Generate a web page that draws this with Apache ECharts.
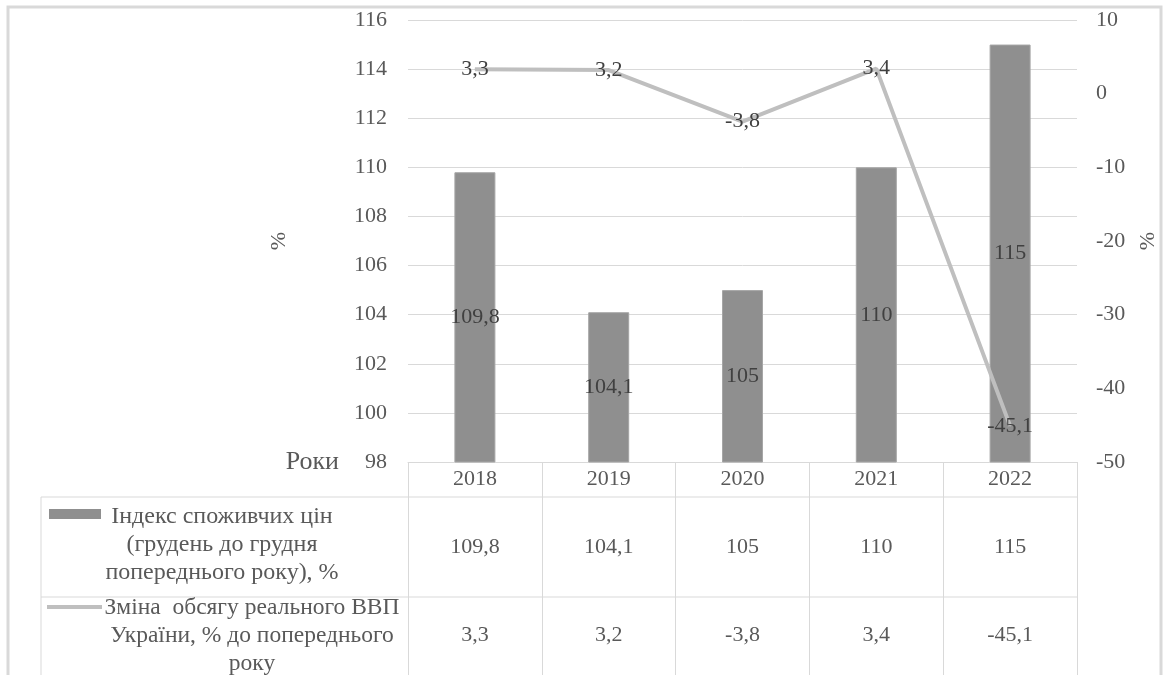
<!DOCTYPE html>
<html>
<head>
<meta charset="utf-8">
<script src="https://cdn.jsdelivr.net/npm/echarts@6/dist/echarts.min.js"></script>
<style>
  html, body { margin: 0; padding: 0; background: #fff; }
  #chart { width: 1168px; height: 675px; }
</style>
</head>
<body>
<div id="chart"></div>
<script>
const years = ['2018', '2019', '2020', '2021', '2022']
const cpiValues = [109.8, 104.1, 105, 110, 115]
const gdpValues = [3.3, 3.2, -3.8, 3.4, -45.1]
const cpiName = 'Індекс споживчих цін\n(грудень до грудня\nпопереднього року), %'
const gdpName = 'Зміна  обсягу реального ВВП\nУкраїни, % до попереднього\nроку'

const FONT = '"Liberation Serif", "Times New Roman", serif'
const fmt = (v) => String(v).replace('.', ',')

// plot area, px
const gridLeft = 408
const gridRight = 1077
const gridTop = 20
const gridBottom = 462
const tableLeft = 41
const row1Top = 497
const row2Top = 597

const chart = echarts.init(document.getElementById('chart'))

const options = {
  animation: false,
  grid: {
    left: gridLeft,
    right: 1168 - gridRight,
    top: gridTop,
    bottom: 675 - gridBottom,
    containLabel: false,
    outerBoundsMode: 'none',
  },
  xAxis: {
    type: 'category',
    data: years,
    name: 'Роки',
    nameLocation: 'start',
    nameGap: 69,
    nameTextStyle: { fontFamily: FONT, fontSize: 26, color: '#595959', verticalAlign: 'middle' },
    axisLine: { onZero: false, lineStyle: { color: '#d9d9d9', width: 1 } },
    axisTick: { show: true, interval: 0, length: 230, lineStyle: { color: '#d9d9d9' } },
    axisLabel: {
      interval: 0,
      margin: 0,
      // rows of the data table under the chart
      formatter: (value, i) => `{y|${value}}\n{a|${fmt(cpiValues[i])}}\n{b|${fmt(gdpValues[i])}}`,
      rich: {
        y: { fontFamily: FONT, fontSize: 22, color: '#595959', lineHeight: row1Top - gridBottom },
        a: { fontFamily: FONT, fontSize: 22, color: '#595959', lineHeight: row2Top - row1Top },
        b: { fontFamily: FONT, fontSize: 22, color: '#595959', lineHeight: 76 },
      },
    },
  },
  yAxis: [
    {
      type: 'value',
      min: 98,
      max: 116,
      interval: 2,
      name: '%',
      nameLocation: 'middle',
      nameGap: 118,
      nameRotate: 90,
      nameTextStyle: { fontFamily: FONT, fontSize: 22, color: '#595959' },
      axisLine: { show: false },
      axisTick: { show: false },
      axisLabel: { fontFamily: FONT, fontSize: 22, color: '#595959', margin: 21 },
      splitLine: { lineStyle: { color: '#d9d9d9', width: 1 } },
    },
    {
      type: 'value',
      min: -50,
      max: 10,
      interval: 10,
      name: '%',
      nameLocation: 'middle',
      nameGap: 60,
      nameRotate: 90,
      nameTextStyle: { fontFamily: FONT, fontSize: 22, color: '#595959' },
      axisLine: { show: false },
      axisTick: { show: false },
      axisLabel: { fontFamily: FONT, fontSize: 22, color: '#595959', margin: 19 },
      splitLine: { show: false },
    },
  ],
  series: [
    {
      name: 'cpi',
      type: 'bar',
      data: cpiValues,
      barWidth: 41,
      itemStyle: { color: '#8f8f8f', borderColor: '#a6a6a6', borderWidth: 1 },
      label: {
        show: true,
        position: 'inside',
        formatter: (p) => fmt(p.value),
        fontFamily: FONT,
        fontSize: 22,
        color: '#404040',
      },
    },
    {
      name: 'gdp',
      type: 'line',
      yAxisIndex: 1,
      data: gdpValues,
      symbol: 'circle',
      symbolSize: 1,
      itemStyle: { color: '#bfbfbf' },
      lineStyle: { color: '#bfbfbf', width: 4 },
      label: {
        show: true,
        position: 'inside',
        formatter: (p) => fmt(p.value),
        fontFamily: FONT,
        fontSize: 22,
        color: '#404040',
      },
      z: 3,
    },
  ],
  graphic: [
    // outer frame
    { type: 'rect', shape: { x: 8, y: 7, width: 1153, height: 690 }, style: { fill: 'none', stroke: '#d9d9d9', lineWidth: 3 }, silent: true },
    // table rules
    { type: 'line', shape: { x1: tableLeft, y1: row1Top, x2: gridRight, y2: row1Top }, style: { stroke: '#d9d9d9', lineWidth: 1 }, silent: true },
    { type: 'line', shape: { x1: tableLeft, y1: row2Top, x2: gridRight, y2: row2Top }, style: { stroke: '#d9d9d9', lineWidth: 1 }, silent: true },
    { type: 'line', shape: { x1: tableLeft, y1: row1Top, x2: tableLeft, y2: 690 }, style: { stroke: '#d9d9d9', lineWidth: 1 }, silent: true },
    // legend keys
    { type: 'rect', shape: { x: 49, y: 509, width: 52, height: 10 }, style: { fill: '#8f8f8f' }, silent: true },
    { type: 'line', shape: { x1: 47, y1: 607, x2: 102, y2: 607 }, style: { stroke: '#bfbfbf', lineWidth: 4 }, silent: true },
    // row headers
    {
      type: 'text',
      style: {
        text: cpiName, x: 222, y: 545, font: `24px ${FONT}`, fill: '#595959',
        textAlign: 'center', textVerticalAlign: 'middle', align: 'center', verticalAlign: 'middle', lineHeight: 28,
      },
      silent: true,
    },
    {
      type: 'text',
      style: {
        text: gdpName, x: 252, y: 636, font: `23.5px ${FONT}`, fill: '#595959',
        textAlign: 'center', textVerticalAlign: 'middle', align: 'center', verticalAlign: 'middle', lineHeight: 28,
      },
      silent: true,
    },
  ],
}

chart.setOption(options)
</script>
</body>
</html>
